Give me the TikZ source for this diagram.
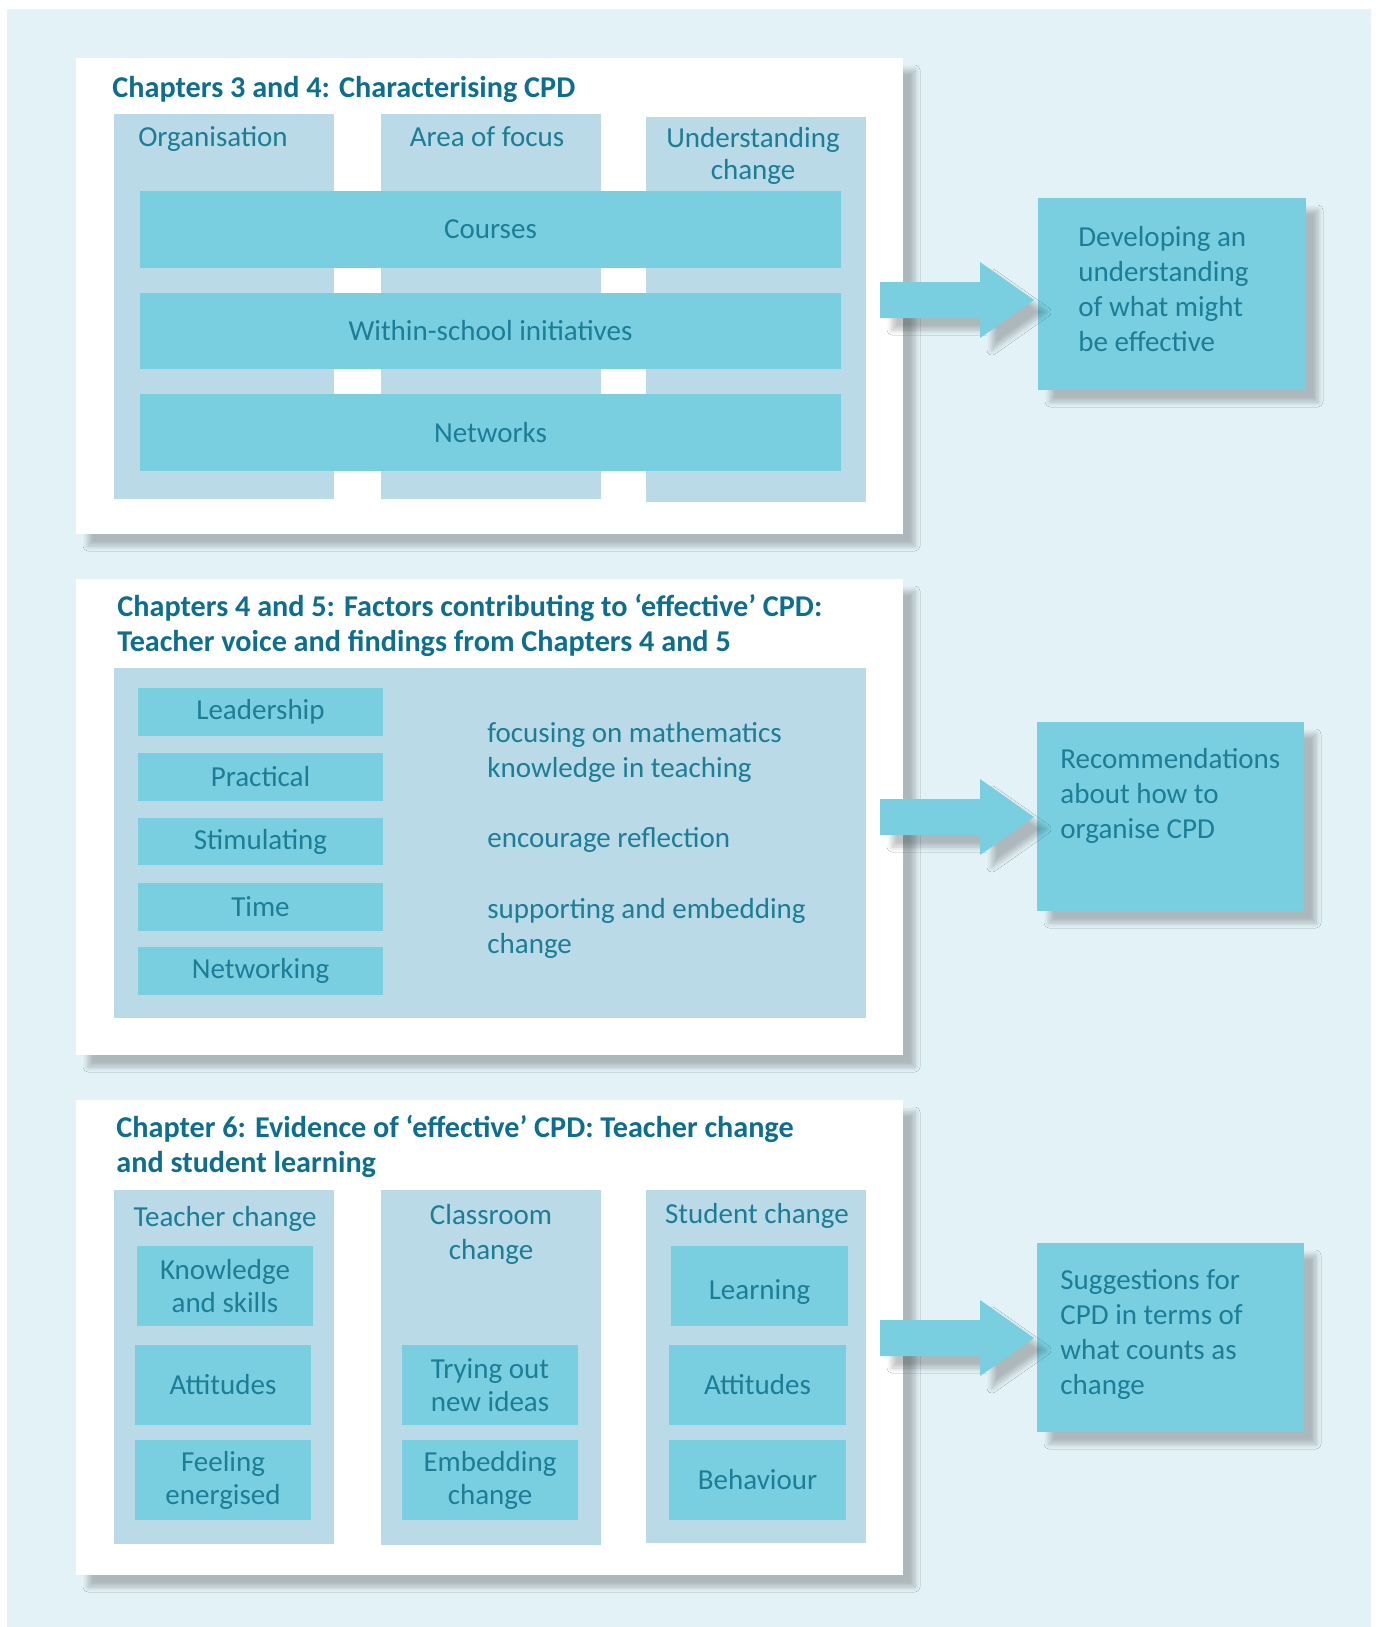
\documentclass[tikz,border=0pt]{standalone}
\usepackage{fontspec}
\setmainfont{Carlito}
\usetikzlibrary{positioning,fit,shadows.blur}

\definecolor{pagebg}{HTML}{E3F2F7}
\definecolor{colblue}{HTML}{B9DAE6}
\definecolor{barblue}{HTML}{79CFE0}
\definecolor{bodyink}{HTML}{1C7D97}
\definecolor{headink}{HTML}{0D6E8D}

\tikzset{
  softshadow/.style = {blur shadow = {shadow xshift = 6pt, shadow yshift = -6pt,
      shadow blur radius = 2.5pt, shadow blur steps = 8, shadow opacity = 24}},
  panel/.style = {fill = white, inner sep = 0pt, softshadow},
  colbox/.style = {fill = colblue, inner sep = 0pt},
  bar/.style = {fill = barblue, inner sep = 0pt},
  result/.style = {fill = barblue, inner sep = 0pt, softshadow},
  txt/.style = {inner sep = 0pt, text = bodyink, font = \fontsize{14.5}{17.5}\selectfont},
  bartxt/.style = {txt, align = center, font = \fontsize{14.5}{16.5}\selectfont},
  heading/.style = {inner sep = 0pt, text = headink, align = left,
      font = \fontsize{15.1}{17.5}\selectfont\bfseries},
  blockarrow/.style = {fill = barblue, softshadow}
}

\begin{document}
\begin{tikzpicture}[x = 0.5pt, y = -0.5pt]
    \useasboundingbox (0, 0) rectangle (1378, 1627);
    \fill[pagebg] (7, 9) rectangle (1371, 1627);

    % chapters 3 and 4
    \node[panel, fit = {(76, 58) (903, 534)}] (chapA) {};
    \node[heading, anchor = west] (chapAtitle) at (112, 89)
      {Chapters 3 and 4: Characterising CPD};
    \node[colbox, fit = {(114, 114) (334, 499)}] (orgcol) {};
    \node[colbox, fit = {(381, 114) (601, 499)}] (focuscol) {};
    \node[colbox, fit = {(646, 117) (866, 502)}] (undcol) {};
    \node[txt, anchor = base] (orghead) at (213, 147) {Organisation};
    \node[txt, anchor = base] (focushead) at (487, 147) {Area of focus};
    \node[txt, align = center, anchor = north] (undhead) at (753, 127)
      {Understanding\\[-1.5pt]change};
    \node[bar, fit = {(140, 191) (841, 268)}] (courses) {};
    \node[bartxt] at (courses) {Courses};
    \node[bar, fit = {(140, 293) (841, 369)}] (withinschool) {};
    \node[bartxt] at (withinschool) {Within-school initiatives};
    \node[bar, fit = {(140, 394) (841, 471)}] (networks) {};
    \node[bartxt] at (networks) {Networks};

    % chapters 4 and 5
    \node[panel, fit = {(76, 579) (903, 1055)}] (chapB) {};
    \node[heading, anchor = north west] (chapBtitle) at (117, 594)
      {Chapters 4 and 5: Factors contributing to ‘effective’ CPD:\\
       Teacher voice and findings from Chapters 4 and 5};
    \node[colbox, fit = {(114, 668) (866, 1018)}] (factors) {};
    \node[bar, fit = {(138, 688) (383, 736)}] (leadership) {};
    \node[bartxt] at (leadership) {Leadership};
    \node[bar, fit = {(138, 753) (383, 801)}] (practical) {};
    \node[bartxt] at (practical) {Practical};
    \node[bar, fit = {(138, 818) (383, 865)}] (stimulating) {};
    \node[bartxt] at (stimulating) {Stimulating};
    \node[bar, fit = {(138, 883) (383, 931)}] (time) {};
    \node[bartxt] at (time) {Time};
    \node[bar, fit = {(138, 947) (383, 995)}] (networking) {};
    \node[bartxt] at (networking) {Networking};
    \node[txt, align = left, anchor = north west] (focusing) at (487, 722)
      {focusing on mathematics\\knowledge in teaching};
    \node[txt, anchor = base west] (reflection) at (487, 847) {encourage reflection};
    \node[txt, align = left, anchor = north west] (embedding) at (487, 898)
      {supporting and embedding\\change};

    % chapter 6
    \node[panel, fit = {(76, 1100) (903, 1575)}] (chapC) {};
    \node[heading, anchor = north west] (chapCtitle) at (116, 1115)
      {Chapter 6: Evidence of ‘effective’ CPD: Teacher change\\
       and student learning};
    \node[colbox, fit = {(114, 1190) (334, 1544)}] (teachcol) {};
    \node[colbox, fit = {(381, 1190) (601, 1545)}] (roomcol) {};
    \node[colbox, fit = {(646, 1190) (866, 1543)}] (studcol) {};
    \node[txt, anchor = base] (teachhead) at (225, 1226) {Teacher change};
    \node[txt, align = center, anchor = north] (roomhead) at (491, 1204)
      {Classroom\\change};
    \node[txt, anchor = base] (studhead) at (757, 1223) {Student change};
    \node[bar, fit = {(137, 1246) (313, 1326)}] (knowledge) {};
    \node[bartxt] at (knowledge) {Knowledge\\and skills};
    \node[bar, fit = {(135, 1345) (311, 1425)}] (tattitudes) {};
    \node[bartxt] at (tattitudes) {Attitudes};
    \node[bar, fit = {(135, 1440) (311, 1520)}] (energised) {};
    \node[bartxt] at (energised) {Feeling\\energised};
    \node[bar, fit = {(402, 1345) (578, 1425)}] (trying) {};
    \node[bartxt] at (trying) {Trying out\\new ideas};
    \node[bar, fit = {(402, 1440) (578, 1520)}] (embed) {};
    \node[bartxt] at (embed) {Embedding\\change};
    \node[bar, fit = {(671, 1246) (848, 1326)}] (learning) {};
    \node[bartxt] at ([yshift = -3pt]learning) {Learning};
    \node[bar, fit = {(669, 1345) (846, 1425)}] (sattitudes) {};
    \node[bartxt] at (sattitudes) {Attitudes};
    \node[bar, fit = {(669, 1440) (846, 1520)}] (behaviour) {};
    \node[bartxt] at (behaviour) {Behaviour};

    % outcomes
    \node[result, fit = {(1038, 198) (1306, 390)}] (resA) {};
    \node[txt, align = left, anchor = north west] at (1078, 226)
      {Developing an\\understanding\\of what might\\be effective};
    \node[result, fit = {(1037, 722) (1304, 911)}] (resB) {};
    \node[txt, align = left, anchor = north west] at (1060, 748)
      {Recommendations\\about how to\\organise CPD};
    \node[result, fit = {(1037, 1243) (1304, 1432)}] (resC) {};
    \node[txt, align = left, anchor = north west] at (1060, 1269)
      {Suggestions for\\CPD in terms of\\what counts as\\change};

    \foreach \ay in {300, 817, 1338} {
      \path[blockarrow] (880, \ay - 18) -- (980, \ay - 18) -- (980, \ay - 38)
        -- (1034, \ay) -- (980, \ay + 38) -- (980, \ay + 18) -- (880, \ay + 18) -- cycle;
    }
\end{tikzpicture}
\end{document}
